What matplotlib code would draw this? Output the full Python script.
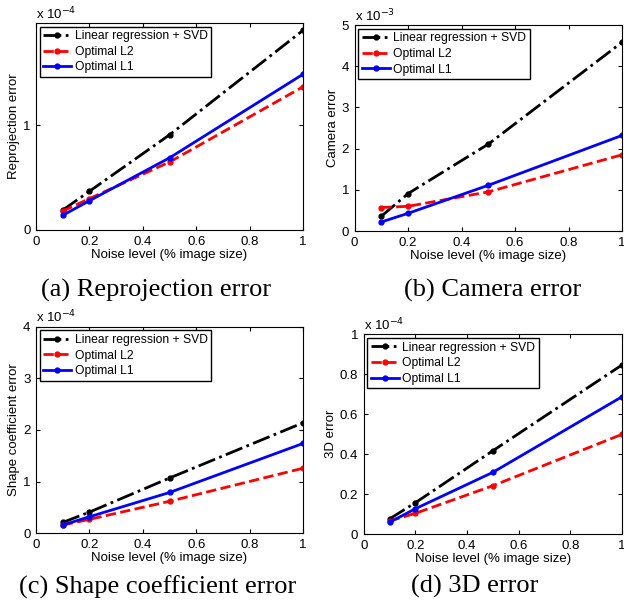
import matplotlib.pyplot as plt

plt.rcParams['font.family'] = ['Liberation Sans', 'DejaVu Sans']

# Data
noise = [0.1, 0.2, 0.5, 1.0]

# (a) reprojection error, units of 1e-4
reproj_svd = [0.19, 0.37, 0.91, 1.91]
reproj_l2 = [0.18, 0.30, 0.65, 1.37]
reproj_l1 = [0.14, 0.28, 0.69, 1.49]

# (b) camera error, units of 1e-3
cam_svd = [0.36, 0.91, 2.11, 4.58]
cam_l2 = [0.57, 0.60, 0.95, 1.85]
cam_l1 = [0.22, 0.43, 1.11, 2.32]

# (c) shape coefficient error, units of 1e-4
shape_svd = [0.21, 0.41, 1.07, 2.14]
shape_l2 = [0.16, 0.27, 0.62, 1.26]
shape_l1 = [0.16, 0.32, 0.79, 1.74]

# (d) 3D error, units of 1e-4
err3d_svd = [0.077, 0.158, 0.418, 0.847]
err3d_l2 = [0.067, 0.105, 0.243, 0.50]
err3d_l1 = [0.06, 0.128, 0.31, 0.688]

panels = [
    ([0.0577, 0.6186, 0.428, 0.3433], reproj_svd, reproj_l2, reproj_l1, 'Reprojection error',
     '-4', (0, 1.98), [0, 1], ['0', '1'], '(a) Reprojection error', 0.250, 0.508),
    ([0.5684, 0.6169, 0.4284, 0.3416], cam_svd, cam_l2, cam_l1, 'Camera error',
     '-3', (0, 5), [0, 1, 2, 3, 4, 5], None, '(b) Camera error', 0.790, 0.508),
    ([0.0577, 0.1156, 0.428, 0.3426], shape_svd, shape_l2, shape_l1, 'Shape coefficient error',
     '-4', (0, 4), [0, 1, 2, 3, 4], None, '(c) Shape coefficient error', 0.253, 0.015),
    ([0.5829, 0.1139, 0.414, 0.3317], err3d_svd, err3d_l2, err3d_l1, '3D error',
     '-4', (0, 1), [0, 0.2, 0.4, 0.6, 0.8, 1], ['0', '0.2', '0.4', '0.6', '0.8', '1'],
     '(d) 3D error', 0.760, 0.017),
]

fig = plt.figure(figsize=(6.24, 6.03), dpi=100)

for rect, svd, l2, l1, ylabel, exp, ylim, yticks, yticklabels, caption, cx, cy in panels:
    ax = fig.add_axes(rect)
    ax.plot(noise, svd, 'k-.', marker='.', markersize=7, linewidth=2, label='Linear regression + SVD')
    ax.plot(noise, l2, 'r--', marker='.', markersize=7, linewidth=2, label='Optimal L2')
    ax.plot(noise, l1, 'b-', marker='.', markersize=7, linewidth=2, label='Optimal L1')
    ax.set_xlim(0, 1)
    ax.set_ylim(*ylim)
    ax.set_xticks([0, 0.2, 0.4, 0.6, 0.8, 1])
    ax.set_xticklabels(['0', '0.2', '0.4', '0.6', '0.8', '1'])
    ax.set_yticks(yticks)
    if yticklabels:
        ax.set_yticklabels(yticklabels)
    ax.tick_params(direction='in', top=True, right=True, labelsize=9.5, length=3, pad=4)
    ax.set_xlabel('Noise level (% image size)', fontsize=9.5, labelpad=1)
    ax.set_ylabel(ylabel, fontsize=9.5, labelpad=2)
    ax.text(0.0, 1.005, r'x 10$^{' + exp + '}$', transform=ax.transAxes, fontsize=9.5, va='bottom')
    ax.legend(loc='upper left', fontsize=8.7, fancybox=False, edgecolor='black', framealpha=1,
              handlelength=2.3, handletextpad=0.3, borderpad=0.3, labelspacing=0.3,
              borderaxespad=0.3)
    fig.text(cx, cy, caption, family='Liberation Serif', fontsize=19, ha='center', va='baseline')

fig.savefig('out.png', dpi=100)
